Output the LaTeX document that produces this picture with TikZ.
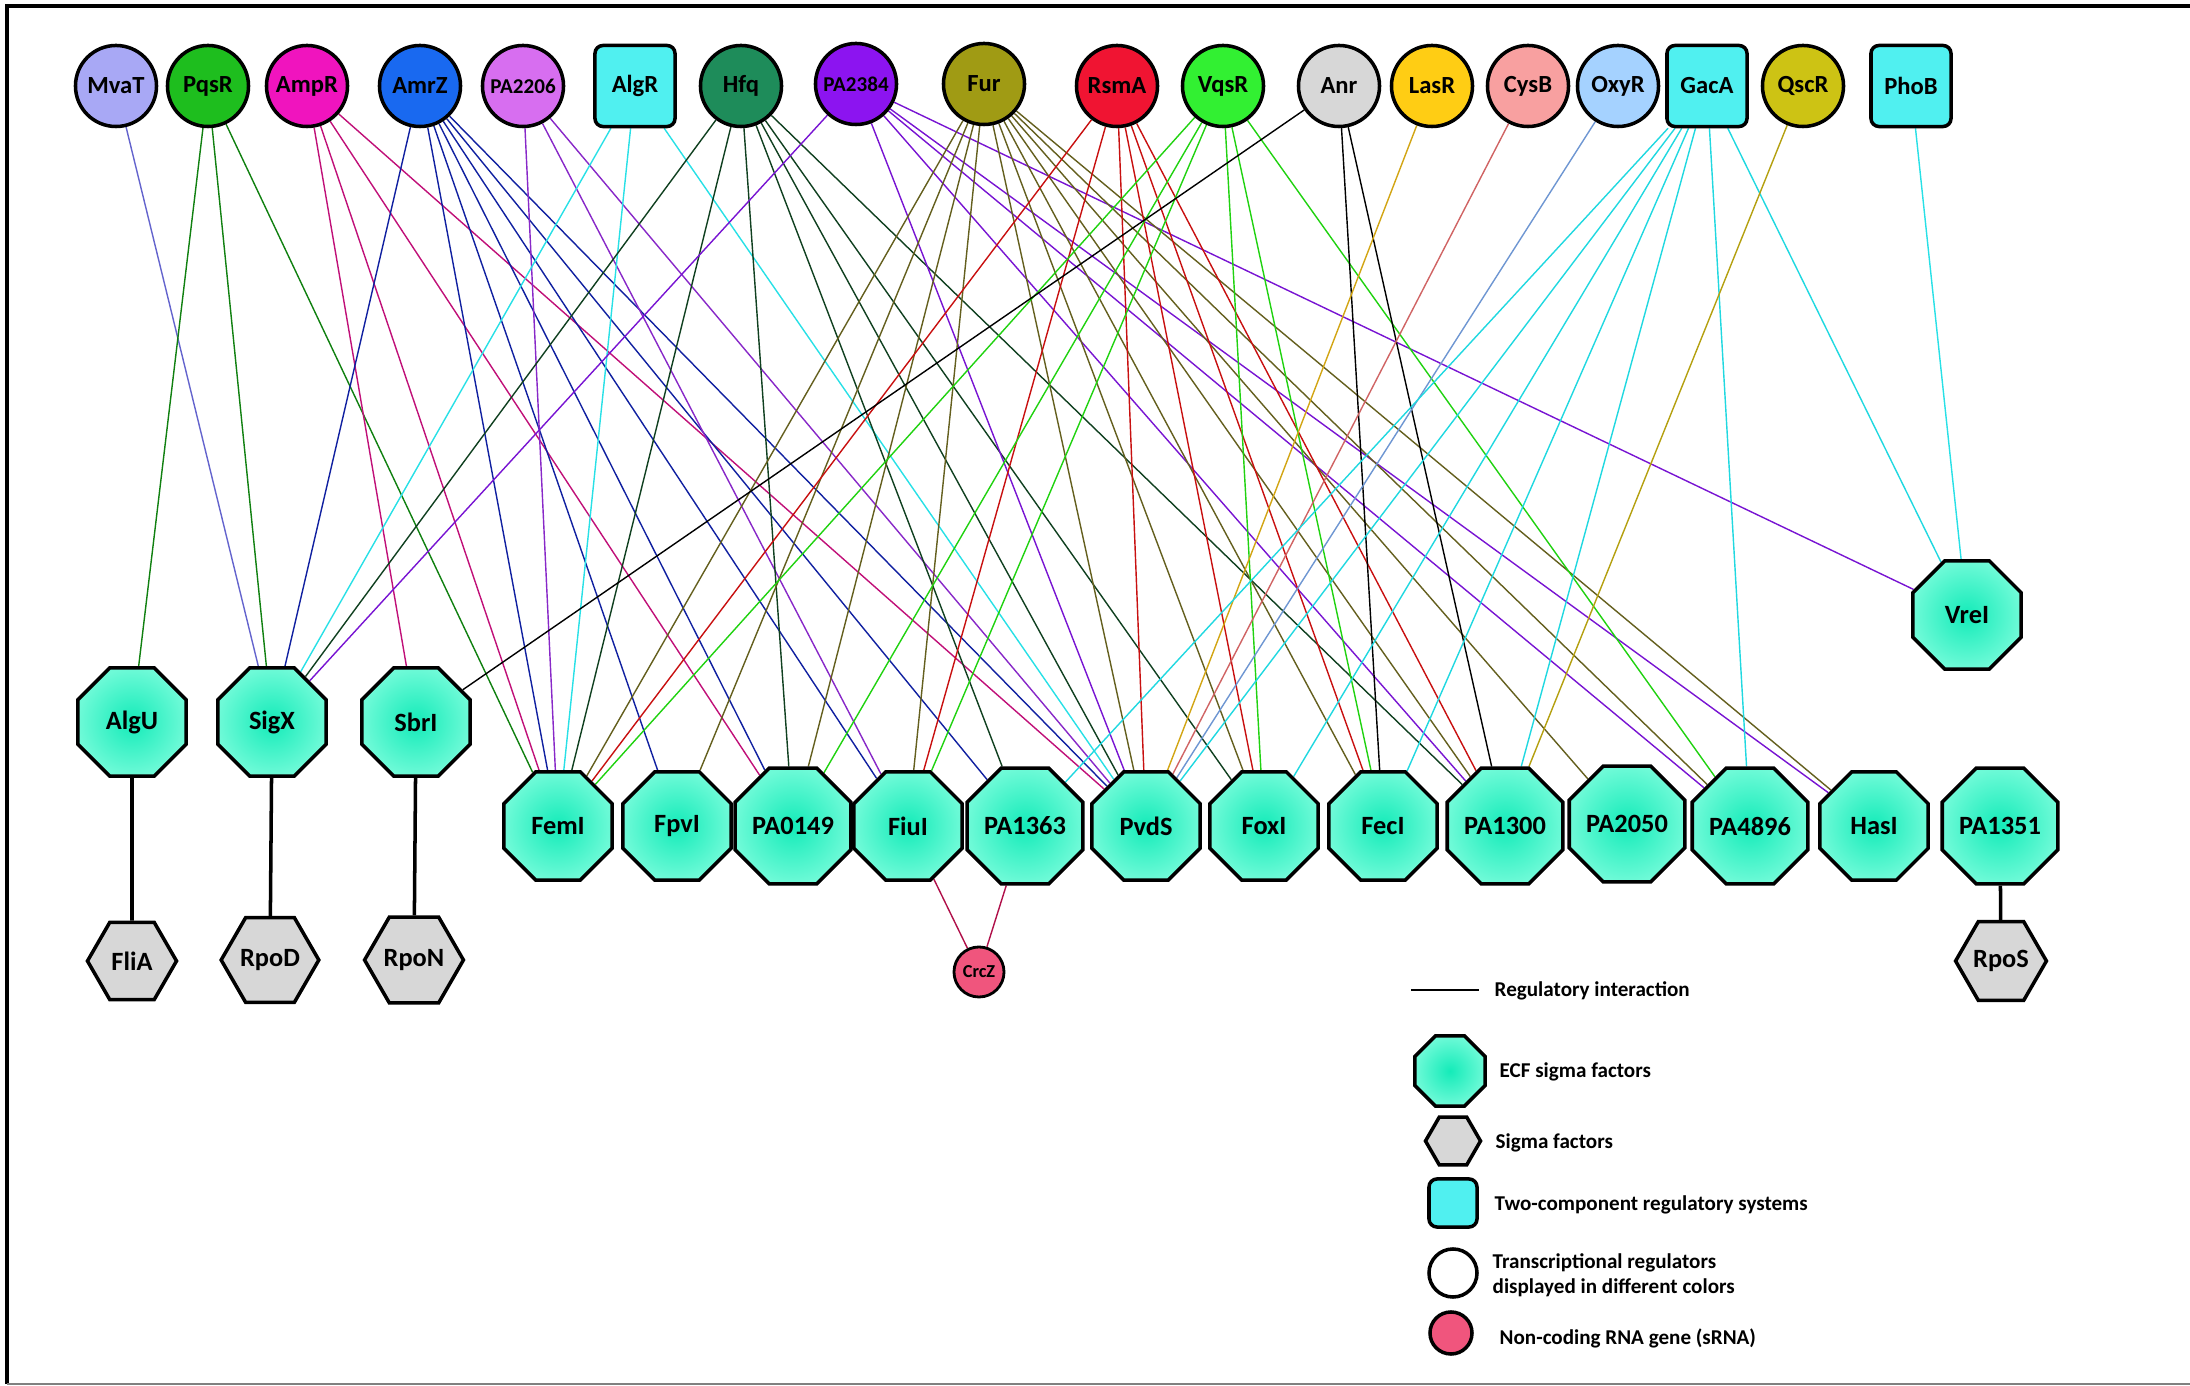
\documentclass[tikz,border=0pt]{standalone}
\usepackage{fontspec}
\setmainfont{Carlito}
\usetikzlibrary{shapes.geometric,backgrounds}

% regulator fills and line colours
\definecolor{mvatF}{RGB}{168,168,245}   \definecolor{mvatL}{RGB}{100,100,205}
\definecolor{pqsrF}{RGB}{30,190,30}     \definecolor{pqsrL}{RGB}{16,128,16}
\definecolor{amprF}{RGB}{240,20,190}    \definecolor{amprL}{RGB}{192,16,120}
\definecolor{amrzF}{RGB}{25,105,240}    \definecolor{amrzL}{RGB}{16,32,160}
\definecolor{pa2206F}{RGB}{215,110,240} \definecolor{pa2206L}{RGB}{136,40,200}
\definecolor{algrF}{RGB}{80,240,240}    \definecolor{algrL}{RGB}{40,224,230}
\definecolor{hfqF}{RGB}{30,140,90}      \definecolor{hfqL}{RGB}{16,64,32}
\definecolor{pa2384F}{RGB}{140,20,240}  \definecolor{pa2384L}{RGB}{120,20,210}
\definecolor{furF}{RGB}{160,155,20}     \definecolor{furL}{RGB}{100,95,30}
\definecolor{rsmaF}{RGB}{240,20,50}     \definecolor{rsmaL}{RGB}{200,16,16}
\definecolor{vqsrF}{RGB}{50,240,50}     \definecolor{vqsrL}{RGB}{32,210,16}
\definecolor{anrF}{RGB}{215,215,215}
\definecolor{lasrF}{RGB}{255,205,20}    \definecolor{lasrL}{RGB}{210,165,20}
\definecolor{cysbF}{RGB}{248,160,160}   \definecolor{cysbL}{RGB}{208,100,100}
\definecolor{oxyrF}{RGB}{165,210,255}   \definecolor{oxyrL}{RGB}{110,150,210}
\definecolor{gacaL}{RGB}{32,216,224}
\definecolor{qscrF}{RGB}{205,195,20}    \definecolor{qscrL}{RGB}{180,160,16}
\definecolor{crczF}{RGB}{240,85,125}    \definecolor{crczL}{RGB}{176,16,74}
\definecolor{ecfin}{RGB}{20,235,185}    \definecolor{ecfout}{RGB}{110,250,215}
\definecolor{sigmagray}{RGB}{215,215,215}

\begin{document}
\begin{tikzpicture}[x=0.01cm, y=-0.01cm,
    every node/.style={font=\bfseries\fontsize{7}{8}\selectfont, inner sep=0pt},
    reg/.style={circle, draw, line width=1pt, minimum size=0.81cm, fill=#1},
    tcs/.style={rectangle, rounded corners=0.08cm, draw, line width=1pt,
        minimum width=0.8cm, minimum height=0.81cm, fill=#1},
    ecf/.style={regular polygon, regular polygon sides=8, draw, line width=1pt,
        minimum size=1.17cm, inner color=ecfin, outer color=ecfout,
        font=\bfseries\fontsize{7.5}{8}\selectfont},
    sigma/.style={regular polygon, regular polygon sides=6, draw, line width=1pt,
        minimum size=0.89cm, fill=sigmagray, font=\bfseries\fontsize{7.5}{8}\selectfont},
    small/.style={font=\bfseries\fontsize{6}{7}\selectfont},
    legend/.style={anchor=west, align=left, font=\bfseries\fontsize{6}{7.2}\selectfont},
    link/.style={line width=0.75pt}]
    \useasboundingbox (0,0) rectangle (2190,1386);

    % Frame
    \draw[line width=1pt] (2190,6) -- (7,6) -- (7,1384);
    \draw[gray, line width=0.6pt] (7,1384) -- (2190,1384);

    % Regulators
    \node[reg=mvatF] (mvat) at (116,86) {MvaT};
    \node[reg=pqsrF] (pqsr) at (208,86) {PqsR};
    \node[reg=amprF] (ampr) at (307,86) {AmpR};
    \node[reg=amrzF] (amrz) at (420,86) {AmrZ};
    \node[reg=pa2206F, small] (pa2206) at (523,86) {PA2206};
    \node[tcs=algrF] (algr) at (635,86) {AlgR};
    \node[reg=hfqF] (hfq) at (741,86) {Hfq};
    \node[reg=pa2384F, small] (pa2384) at (856,84) {PA2384};
    \node[reg=furF] (fur) at (984,84) {Fur};
    \node[reg=rsmaF] (rsma) at (1117,86) {RsmA};
    \node[reg=vqsrF] (vqsr) at (1223,86) {VqsR};
    \node[reg=anrF] (anr) at (1339,86) {Anr};
    \node[reg=lasrF] (lasr) at (1432,86) {LasR};
    \node[reg=cysbF] (cysb) at (1528,86) {CysB};
    \node[reg=oxyrF] (oxyr) at (1618,86) {OxyR};
    \node[tcs=algrF] (gaca) at (1707,86) {GacA};
    \node[reg=qscrF] (qscr) at (1803,86) {QscR};
    \node[tcs=algrF] (phob) at (1911,86) {PhoB};

    % ECF sigma factors
    \node[ecf] (algu) at (132,722) {AlgU};
    \node[ecf] (sigx) at (272,722) {SigX};
    \node[ecf] (sbri) at (416,722) {SbrI};
    \node[ecf] (vrei) at (1967,615) {VreI};
    \node[ecf] (femi) at (558,826) {FemI};
    \node[ecf] (fpvi) at (677,826) {FpvI};
    \node[ecf] (pa0149) at (793,826) {PA0149};
    \node[ecf] (fiui) at (908,826) {FiuI};
    \node[ecf] (pa1363) at (1025,826) {PA1363};
    \node[ecf] (pvds) at (1146,826) {PvdS};
    \node[ecf] (foxi) at (1264,826) {FoxI};
    \node[ecf] (feci) at (1383,826) {FecI};
    \node[ecf] (pa1300) at (1505,826) {PA1300};
    \node[ecf] (pa2050) at (1627,824) {PA2050};
    \node[ecf] (pa4896) at (1750,826) {PA4896};
    \node[ecf] (hasi) at (1874,826) {HasI};
    \node[ecf] (pa1351) at (2000,826) {PA1351};

    % Sigma factors and sRNA
    \node[sigma] (flia) at (132,961) {FliA};
    \node[sigma] (rpod) at (270,960) {RpoD};
    \node[sigma] (rpon) at (414,960) {RpoN};
    \node[sigma] (rpos) at (2001,961) {RpoS};
    \node[circle, draw, line width=0.8pt, minimum size=0.5cm, fill=crczF,
        font=\bfseries\fontsize{5.2}{6}\selectfont] (crcz) at (979,972) {CrcZ};

    % Interactions
    \begin{scope}[on background layer, link]
    \draw[mvatL] (mvat) -- (sigx);
    \draw[pqsrL] (pqsr) -- (algu) (pqsr) -- (sigx) (pqsr) -- (femi);
    \draw[amprL] (ampr) -- (sbri) (ampr) -- (femi) (ampr) -- (pa0149) (ampr) -- (pvds);
    \draw[amrzL] (amrz) -- (sigx) (amrz) -- (femi) (amrz) -- (fpvi) (amrz) -- (pa0149)
        (amrz) -- (fiui) (amrz) -- (pa1363) (amrz) -- (pvds);
    \draw[pa2206L] (pa2206) -- (femi) (pa2206) -- (fiui) (pa2206) -- (pvds);
    \draw[algrL] (algr) -- (sigx) (algr) -- (femi) (algr) -- (pvds);
    \draw[hfqL] (hfq) -- (sigx) (hfq) -- (femi) (hfq) -- (pa0149) (hfq) -- (pa1363)
        (hfq) -- (pvds) (hfq) -- (foxi) (hfq) -- (pa1300);
    \draw[pa2384L] (pa2384) -- (sigx) (pa2384) -- (pvds) (pa2384) -- (pa1300)
        (pa2384) -- (pa4896) (pa2384) -- (hasi) (pa2384) -- (vrei);
    \draw[furL] (fur) -- (femi) (fur) -- (fpvi) (fur) -- (pa0149) (fur) -- (fiui)
        (fur) -- (pvds) (fur) -- (foxi) (fur) -- (feci) (fur) -- (pa1300)
        (fur) -- (pa2050) (fur) -- (pa4896) (fur) -- (hasi);
    \draw[rsmaL] (rsma) -- (femi) (rsma) -- (fiui) (rsma) -- (pvds) (rsma) -- (foxi)
        (rsma) -- (feci) (rsma) -- (pa1300);
    \draw[vqsrL] (vqsr) -- (femi) (vqsr) -- (pa0149) (vqsr) -- (fiui) (vqsr) -- (foxi)
        (vqsr) -- (feci) (vqsr) -- (pa4896);
    \draw[black] (anr) -- (sbri) (anr) -- (feci) (anr) -- (pa1300);
    \draw[lasrL] (lasr) -- (pvds);
    \draw[cysbL] (cysb) -- (pvds);
    \draw[oxyrL] (oxyr) -- (pvds);
    \draw[gacaL] (gaca) -- (pa1363) (gaca) -- (pvds) (gaca) -- (foxi) (gaca) -- (feci)
        (gaca) -- (pa1300) (gaca) -- (pa4896) (gaca) -- (vrei);
    \draw[qscrL] (qscr) -- (pa1300);
    \draw[algrL] (phob) -- (vrei);
    \draw[crczL] (fiui) -- (crcz) (pa1363) -- (crcz);
    \end{scope}

    % ECF to sigma factors
    \draw[line width=1pt] (algu) -- (flia);
    \draw[line width=1pt] (sigx) -- (rpod);
    \draw[line width=1pt] (sbri) -- (rpon);
    \draw[line width=1pt] (pa1351) -- (rpos);

    % Legend
    \coordinate (linestart) at (1411,990);
    \coordinate (lineend) at (1479,990);
    \draw[line width=0.6pt] (linestart) -- (lineend);
    \node[legend] (legline) at (1494,991) {Regulatory interaction};
    \node[ecf, minimum size=0.76cm] (legecf) at (1450,1071) {};
    \node[legend] (legecftext) at (1499,1072) {ECF sigma factors};
    \node[sigma, minimum size=0.55cm] (legsigma) at (1453,1141) {};
    \node[legend] (legsigmatext) at (1495,1143) {Sigma factors};
    \node[tcs=algrF, minimum width=0.48cm, minimum height=0.48cm] (legtcs) at (1453,1203) {};
    \node[legend] (legtcstext) at (1494,1205) {Two-component regulatory systems};
    \node[reg=white, minimum size=0.48cm] (legreg) at (1453,1273) {};
    \node[legend] (legregtext) at (1492,1275) {Transcriptional regulators\\displayed in different colors};
    \node[reg=crczF, minimum size=0.42cm] (legsrna) at (1451,1333) {};
    \node[legend] (legsrnatext) at (1499,1338) {Non-coding RNA gene (sRNA)};
\end{tikzpicture}
\end{document}
